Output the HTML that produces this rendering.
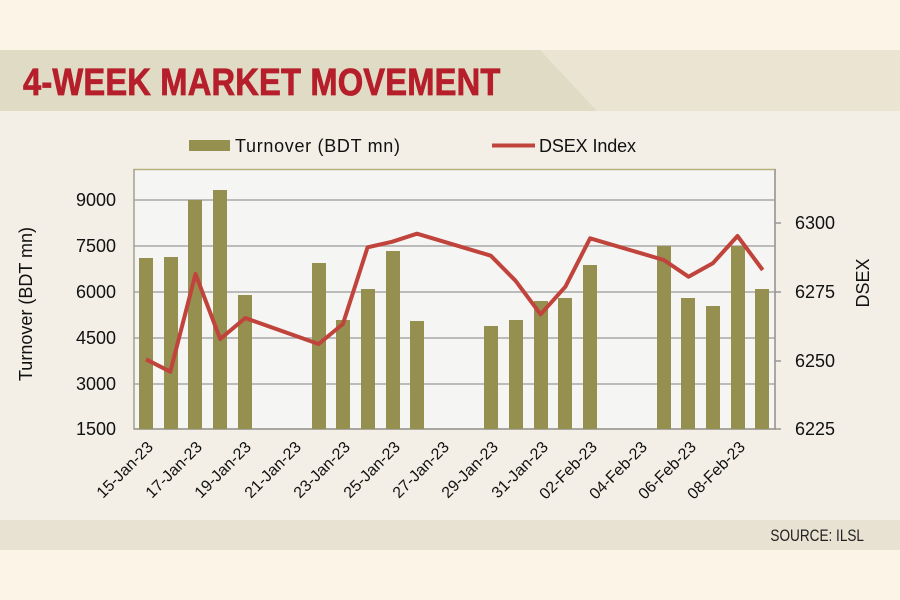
<!DOCTYPE html>
<html><head><meta charset="utf-8"><style>
html,body{margin:0;padding:0;background:#fdf4e8;}
svg{display:block;font-family:"Liberation Sans",sans-serif;}
</style></head><body>
<svg width="900" height="600" viewBox="0 0 900 600">
<rect x="0" y="0" width="900" height="600" fill="#fdf4e8"/>
<rect x="0" y="111" width="900" height="409" fill="#f3efe6"/>
<rect x="0" y="50" width="900" height="61" fill="#ebe4d3"/>
<polygon points="0,50 540,50 597,111 0,111" fill="#dfdbc4"/>
<text x="23" y="95" font-size="38" font-weight="bold" fill="#b51e2a" stroke="#b51e2a" stroke-width="0.8" transform="translate(23 0) scale(0.86 1) translate(-23 0)" textLength="555">4-WEEK MARKET MOVEMENT</text>
<rect x="0" y="520" width="900" height="30" fill="#e8e2d2"/>
<text x="864" y="541" font-size="17" fill="#222" text-anchor="end" transform="translate(864 0) scale(0.8 1) translate(-864 0)">SOURCE: ILSL</text>
<!-- legend -->
<rect x="189" y="140" width="41" height="11" fill="#958f50"/>
<text x="235" y="152" font-size="18" fill="#111" textLength="165">Turnover (BDT mn)</text>
<line x1="492" y1="145.5" x2="535" y2="145.5" stroke="#c0443c" stroke-width="4"/>
<text x="539" y="152" font-size="18" fill="#111" textLength="97">DSEX Index</text>
<!-- plot -->
<rect x="134" y="169.5" width="641" height="259.5" fill="#f5f5f3" stroke="#b8b07a" stroke-width="1.5"/>
<g stroke="#a8a8a8" stroke-width="1.5">
<line x1="134" y1="200" x2="775" y2="200"/>
<line x1="134" y1="246" x2="775" y2="246"/>
<line x1="134" y1="292" x2="775" y2="292"/>
<line x1="134" y1="338" x2="775" y2="338"/>
<line x1="134" y1="384" x2="775" y2="384"/>
</g>
<line x1="134" y1="429" x2="776" y2="429" stroke="#999" stroke-width="1.5"/>
<line x1="134" y1="169" x2="134" y2="429" stroke="#999" stroke-width="1"/>
<line x1="775" y1="169" x2="775" y2="429" stroke="#999" stroke-width="1.5"/>
<g stroke="#999" stroke-width="1.5">
<line x1="775" y1="223" x2="781" y2="223"/><line x1="775" y1="292" x2="781" y2="292"/>
<line x1="775" y1="361" x2="781" y2="361"/><line x1="775" y1="429" x2="781" y2="429"/>
</g>
<g fill="#958f50">
<rect x="139" y="258" width="14" height="171"/>
<rect x="164" y="257" width="14" height="172"/>
<rect x="188" y="200" width="14" height="229"/>
<rect x="213" y="190" width="14" height="239"/>
<rect x="238" y="295" width="14" height="134"/>
<rect x="312" y="263" width="14" height="166"/>
<rect x="336" y="320" width="14" height="109"/>
<rect x="361" y="289" width="14" height="140"/>
<rect x="386" y="251" width="14" height="178"/>
<rect x="410" y="321" width="14" height="108"/>
<rect x="484" y="326" width="14" height="103"/>
<rect x="509" y="320" width="14" height="109"/>
<rect x="534" y="301" width="14" height="128"/>
<rect x="558" y="298" width="14" height="131"/>
<rect x="583" y="265" width="14" height="164"/>
<rect x="657" y="246" width="14" height="183"/>
<rect x="681" y="298" width="14" height="131"/>
<rect x="706" y="306" width="14" height="123"/>
<rect x="731" y="246" width="14" height="183"/>
<rect x="755" y="289" width="14" height="140"/>
</g>
<polyline fill="none" stroke="#c0443c" stroke-width="4" stroke-linejoin="round" points="146,359.3 170.3,371.7 195.5,274 220.2,339 245.3,318 318.6,344 342.9,324 367.6,247.3 392.3,241.7 417,233.7 490.8,255.7 515.5,280.7 540.6,314.3 565.4,286.7 590.1,238.3 663.8,260 688.5,276.7 712.8,263.3 737.5,236 762.7,270"/>
<g font-size="18" fill="#111" text-anchor="end">
<text x="116" y="206">9000</text><text x="116" y="252">7500</text><text x="116" y="298">6000</text>
<text x="116" y="344">4500</text><text x="116" y="390">3000</text><text x="116" y="435">1500</text>
</g>
<g font-size="18" fill="#111">
<text x="795" y="229">6300</text><text x="795" y="298">6275</text><text x="795" y="367">6250</text><text x="795" y="435">6225</text>
</g>
<text transform="translate(32 304) rotate(-90)" font-size="18" fill="#111" text-anchor="middle">Turnover (BDT mn)</text>
<text transform="translate(869 283) rotate(-90)" font-size="18" fill="#111" text-anchor="middle">DSEX</text>
<g font-size="16" fill="#111" text-anchor="end">
<text transform="translate(154 448) rotate(-45)">15-Jan-23</text>
<text transform="translate(203 448) rotate(-45)">17-Jan-23</text>
<text transform="translate(252 448) rotate(-45)">19-Jan-23</text>
<text transform="translate(302 448) rotate(-45)">21-Jan-23</text>
<text transform="translate(351 448) rotate(-45)">23-Jan-23</text>
<text transform="translate(401 448) rotate(-45)">25-Jan-23</text>
<text transform="translate(450 448) rotate(-45)">27-Jan-23</text>
<text transform="translate(499 448) rotate(-45)">29-Jan-23</text>
<text transform="translate(549 448) rotate(-45)">31-Jan-23</text>
<text transform="translate(598 448) rotate(-45)">02-Feb-23</text>
<text transform="translate(648 448) rotate(-45)">04-Feb-23</text>
<text transform="translate(697 448) rotate(-45)">06-Feb-23</text>
<text transform="translate(746 448) rotate(-45)">08-Feb-23</text>
</g>
</svg>
</body></html>
